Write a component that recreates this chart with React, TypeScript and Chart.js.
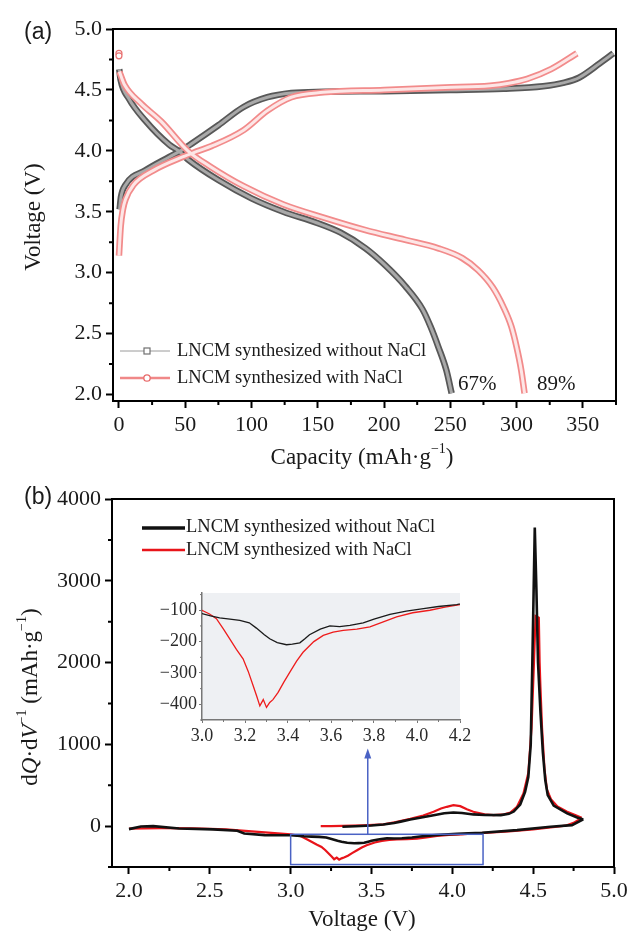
import { useEffect, useRef } from 'react';
import { Chart, registerables } from 'chart.js';

Chart.register(...registerables);

// ---------------- Panel (a): [capacity (mAh/g), voltage (V)] ----------------
const blackChargeA: number[][] = [
  [0.5, 3.52], [1.5, 3.62], [4.9, 3.72], [20, 3.84], [38, 3.95], [48, 4.01], [55, 4.06], [75, 4.21],
  [94, 4.36], [112, 4.44], [130, 4.475], [155, 4.485], [200, 4.49], [250, 4.50], [290, 4.51],
  [320, 4.53], [336, 4.56], [347, 4.6], [363, 4.72], [373, 4.80],
];
const redChargeA: number[][] = [
  [0, 3.14], [1.3, 3.38], [3, 3.52], [4.9, 3.60], [10.9, 3.72], [26, 3.84], [48, 3.95], [60, 4.0],
  [70, 4.04], [94, 4.17], [112, 4.33], [130, 4.44], [154, 4.48], [200, 4.50], [246, 4.52],
  [280, 4.535], [294, 4.555], [308, 4.59], [326, 4.67], [345.5, 4.80],
];
const blackDischargeA: number[][] = [
  [0.2, 4.67], [1.3, 4.58], [7.4, 4.43], [19.7, 4.25], [38, 4.05], [45, 4.0], [52, 3.93], [75, 3.76],
  [100, 3.61], [124, 3.50], [149, 3.41], [167, 3.33], [186, 3.20], [201, 3.06], [216, 2.89],
  [229, 2.70], [235, 2.56], [241, 2.39], [247, 2.20], [251, 2.01],
];
const redDischargeA: number[][] = [
  [0.3, 4.65], [4.3, 4.54], [16.5, 4.39], [32, 4.24], [52, 4.0], [69, 3.87], [94, 3.71], [124, 3.56],
  [155, 3.45], [186, 3.35], [216, 3.27], [241, 3.20], [259, 3.12], [271, 3.02], [282, 2.88],
  [290, 2.72], [296, 2.56], [300, 2.39], [303.5, 2.20], [306, 2.01],
];
const redRestA: number[][] = [[0, 4.80], [0, 4.78]];

const xTicksA = [0, 50, 100, 150, 200, 250, 300, 350];
const xMinorA = [25, 75, 125, 175, 225, 275, 325, 375];
const yTicksA = [2.0, 2.5, 3.0, 3.5, 4.0, 4.5, 5.0];
const yMinorA = [2.25, 2.75, 3.25, 3.75, 4.25, 4.75];

// ---------------- Panel (b): [voltage (V), dQ/dV] ----------------
const blackChargeB: number[][] = [
  [3.32, -8], [3.40, -2], [3.50, 8], [3.574, 20], [3.64, 38], [3.68, 55], [3.74, 82], [3.80, 102],
  [3.884, 134], [3.95, 158], [4.007, 167], [4.06, 160], [4.13, 143], [4.20, 136], [4.30, 134],
  [4.35, 150], [4.38, 178], [4.42, 265], [4.45, 420], [4.47, 600], [4.485, 1000], [4.495, 2000],
  [4.51, 3650], [4.52, 2900], [4.53, 2000], [4.545, 1400], [4.56, 900], [4.575, 560], [4.59, 380],
  [4.627, 250], [4.71, 155], [4.772, 106], [4.81, 82],
];
const blackDischargeB: number[][] = [
  [4.81, 82], [4.74, 12], [4.607, -8], [4.40, -49], [4.185, -82], [4.1, -88], [4.03, -95],
  [3.95, -103], [3.874, -113], [3.80, -128], [3.75, -140], [3.688, -148], [3.64, -152],
  [3.595, -150], [3.55, -160], [3.50, -178], [3.48, -190], [3.455, -204], [3.42, -208],
  [3.393, -210], [3.35, -203], [3.315, -191], [3.29, -178], [3.253, -157], [3.22, -140],
  [3.176, -132], [3.13, -128], [3.082, -124], [3.04, -118], [3.0, -111], [2.84, -110],
  [2.713, -90], [2.67, -57], [2.52, -40], [2.31, -29], [2.15, 0], [2.074, -5], [2.0, -37],
];
const redChargeB: number[][] = [
  [3.186, 0], [3.25, 0], [3.32, 2], [3.45, 10], [3.574, 22], [3.65, 50], [3.74, 90], [3.82, 130],
  [3.884, 175], [3.93, 215], [3.966, 236], [4.007, 257], [4.049, 244], [4.09, 205], [4.13, 175],
  [4.20, 145], [4.255, 134], [4.32, 145], [4.359, 165], [4.40, 236], [4.44, 400], [4.47, 650],
  [4.49, 1200], [4.505, 2000], [4.515, 2570], [4.535, 2550], [4.54, 2000], [4.545, 1700],
  [4.555, 1200], [4.57, 700], [4.585, 450], [4.61, 330], [4.65, 240], [4.71, 175], [4.76, 135],
  [4.80, 101],
];
const redDischargeB: number[][] = [
  [4.80, 101], [4.75, 40], [4.70, 5], [4.648, -8], [4.50, -40], [4.35, -65], [4.2, -82],
  [4.13, -90], [4.06, -100], [3.98, -108], [3.905, -121], [3.84, -138], [3.781, -153],
  [3.72, -160], [3.657, -164], [3.61, -170], [3.564, -180], [3.52, -200], [3.47, -234],
  [3.44, -262], [3.408, -298], [3.38, -330], [3.354, -362], [3.33, -385], [3.315, -394],
  [3.30, -410], [3.285, -385], [3.269, -405], [3.255, -375], [3.238, -341], [3.215, -295],
  [3.191, -255], [3.16, -225], [3.129, -191], [3.10, -160], [3.067, -127], [3.035, -112],
  [3.0, -100], [2.9, -85], [2.8, -70], [2.7, -55], [2.6, -40], [2.4, -28], [2.2, -25], [2.0, -30],
];

const xTicksB = [2.0, 2.5, 3.0, 3.5, 4.0, 4.5, 5.0];
const xMinorB = [2.25, 2.75, 3.25, 3.75, 4.25, 4.75];
const yTicksB = [0, 1000, 2000, 3000, 4000];
const yMinorB = [-500, 500, 1500, 2500, 3500];

const xTicksInset = [3.0, 3.2, 3.4, 3.6, 3.8, 4.0, 4.2];
const xMinorInset = [3.1, 3.3, 3.5, 3.7, 3.9, 4.1];
const yTicksInset = [-100, -200, -300, -400];
const yMinorInset = [-50, -150, -250, -350, -450];

// zoom box and arrow in panel (b), data coordinates
const zoomBox = { x0: 3.0, x1: 4.19, y0: -470, y1: -100 };
const arrowB = { x: 3.477, y0: -100, y1: 950 };

const legendLabels = ['LNCM synthesized without NaCl', 'LNCM synthesized with NaCl'];
const retentionLabels = ['67%', '89%'];

const SERIF = '"Liberation Serif", "Times New Roman", serif';
const SANS = '"Liberation Sans", Arial, sans-serif';
const INK = '#1a1a1a';

type Seg = { t: string; i?: boolean; sup?: boolean };

const pts = (arr: number[][]) => arr.map(([x, y]) => ({ x, y }));

function drawRich(ctx: CanvasRenderingContext2D, segs: Seg[], cx: number, cy: number, size: number, rotate: boolean) {
  ctx.save();
  ctx.translate(cx, cy);
  if (rotate) ctx.rotate(-Math.PI / 2);
  const fontFor = (s: Seg) => `${s.i ? 'italic ' : ''}${s.sup ? Math.round(size * 0.62) : size}px ${SERIF}`;
  let total = 0;
  const widths = segs.map((s) => {
    ctx.font = fontFor(s);
    const w = ctx.measureText(s.t).width;
    total += w;
    return w;
  });
  let x = -total / 2;
  ctx.textBaseline = 'middle';
  ctx.textAlign = 'left';
  ctx.fillStyle = INK;
  segs.forEach((s, k) => {
    ctx.font = fontFor(s);
    ctx.fillText(s.t, x, s.sup ? -size * 0.36 : 0);
    x += widths[k];
  });
  ctx.restore();
}

function minorTicks(chart: any, axisId: string, values: number[], len: number, width: number, color: string) {
  const s = chart.scales[axisId];
  const ctx: CanvasRenderingContext2D = chart.ctx;
  const a = chart.chartArea;
  ctx.save();
  ctx.strokeStyle = color;
  ctx.lineWidth = width;
  ctx.beginPath();
  for (const v of values) {
    const p = s.getPixelForValue(v);
    if (s.isHorizontal()) {
      ctx.moveTo(p, a.bottom);
      ctx.lineTo(p, a.bottom + len);
    } else {
      ctx.moveTo(a.left, p);
      ctx.lineTo(a.left - len, p);
    }
  }
  ctx.stroke();
  ctx.restore();
}

function frame(chart: any) {
  const ctx: CanvasRenderingContext2D = chart.ctx;
  const a = chart.chartArea;
  ctx.save();
  ctx.strokeStyle = '#000';
  ctx.lineWidth = 2;
  ctx.strokeRect(a.left, a.top, a.right - a.left, a.bottom - a.top);
  ctx.restore();
}

function text(ctx: CanvasRenderingContext2D, s: string, x: number, y: number, font: string, align: CanvasTextAlign = 'left') {
  ctx.save();
  ctx.font = font;
  ctx.fillStyle = INK;
  ctx.textAlign = align;
  ctx.textBaseline = 'middle';
  ctx.fillText(s, x, y);
  ctx.restore();
}

const decorA = {
  id: 'decorA',
  afterDraw(chart: any) {
    const ctx: CanvasRenderingContext2D = chart.ctx;
    frame(chart);
    minorTicks(chart, 'x', xMinorA, 4, 2, '#000');
    minorTicks(chart, 'y', yMinorA, 4, 2, '#000');
    // legend
    ctx.save();
    ctx.strokeStyle = '#9a9a9a';
    ctx.lineWidth = 1;
    ctx.beginPath();
    ctx.moveTo(120, 351);
    ctx.lineTo(170, 351);
    ctx.stroke();
    ctx.fillStyle = '#fff';
    ctx.strokeStyle = '#707070';
    ctx.lineWidth = 1.2;
    ctx.fillRect(144, 348, 6, 6);
    ctx.strokeRect(144, 348, 6, 6);
    ctx.strokeStyle = '#f08888';
    ctx.lineWidth = 2.5;
    ctx.beginPath();
    ctx.moveTo(120, 378);
    ctx.lineTo(170, 378);
    ctx.stroke();
    ctx.beginPath();
    ctx.arc(147, 378, 3.2, 0, Math.PI * 2);
    ctx.fillStyle = '#fff';
    ctx.fill();
    ctx.strokeStyle = '#e86a6a';
    ctx.lineWidth = 1.3;
    ctx.stroke();
    ctx.restore();
    text(ctx, legendLabels[0], 177, 351.5, `18.5px ${SERIF}`);
    text(ctx, legendLabels[1], 177, 378, `18.5px ${SERIF}`);
    text(ctx, retentionLabels[0], 458, 384, `21px ${SERIF}`);
    text(ctx, retentionLabels[1], 537, 384, `21px ${SERIF}`);
    // titles
    drawRich(ctx, [{ t: 'Capacity (mAh·g' }, { t: '−1', sup: true }, { t: ')' }], 362, 458, 23, false);
    drawRich(ctx, [{ t: 'Voltage (V)' }], 34, 217, 23, true);
    text(ctx, '(a)', 24, 33, `23px ${SANS}`);
  },
};

const decorB = {
  id: 'decorB',
  afterDraw(chart: any) {
    const ctx: CanvasRenderingContext2D = chart.ctx;
    const xs = chart.scales.x;
    const ys = chart.scales.y;
    // zoom box + arrow
    ctx.save();
    ctx.strokeStyle = '#4a62c4';
    ctx.lineWidth = 1.5;
    const bx0 = xs.getPixelForValue(zoomBox.x0);
    const bx1 = xs.getPixelForValue(zoomBox.x1);
    const by0 = ys.getPixelForValue(zoomBox.y0);
    const by1 = ys.getPixelForValue(zoomBox.y1);
    ctx.strokeRect(bx0, by1, bx1 - bx0, by0 - by1);
    const ax = xs.getPixelForValue(arrowB.x);
    const ay0 = ys.getPixelForValue(arrowB.y0);
    const ay1 = ys.getPixelForValue(arrowB.y1);
    ctx.beginPath();
    ctx.moveTo(ax, ay0);
    ctx.lineTo(ax, ay1 + 8);
    ctx.stroke();
    ctx.fillStyle = '#4a62c4';
    ctx.beginPath();
    ctx.moveTo(ax, ay1);
    ctx.lineTo(ax - 3.5, ay1 + 10);
    ctx.lineTo(ax + 3.5, ay1 + 10);
    ctx.closePath();
    ctx.fill();
    ctx.restore();
    frame(chart);
    minorTicks(chart, 'x', xMinorB, 4, 2, '#000');
    minorTicks(chart, 'y', yMinorB, 4, 2, '#000');
    // legend
    ctx.save();
    ctx.strokeStyle = '#111';
    ctx.lineWidth = 3.5;
    ctx.beginPath();
    ctx.moveTo(142, 58);
    ctx.lineTo(185, 58);
    ctx.stroke();
    ctx.strokeStyle = '#e8141a';
    ctx.lineWidth = 2.3;
    ctx.beginPath();
    ctx.moveTo(142, 80);
    ctx.lineTo(185, 80);
    ctx.stroke();
    ctx.restore();
    text(ctx, legendLabels[0], 186, 57.5, `18.5px ${SERIF}`);
    text(ctx, legendLabels[1], 186, 80, `18.5px ${SERIF}`);
    drawRich(ctx, [{ t: 'Voltage (V)' }], 362, 450, 23, false);
    drawRich(
      ctx,
      [{ t: 'd' }, { t: 'Q', i: true }, { t: '·d' }, { t: 'V', i: true }, { t: '−1', sup: true }, { t: ' (mAh·g' }, { t: '−1', sup: true }, { t: ')' }],
      31, 227, 23, true,
    );
    text(ctx, '(b)', 24, 28, `23px ${SANS}`);
  },
};

const decorInset = {
  id: 'decorInset',
  beforeDraw(chart: any) {
    const ctx: CanvasRenderingContext2D = chart.ctx;
    const a = chart.chartArea;
    ctx.save();
    ctx.fillStyle = '#eef0f3';
    ctx.fillRect(a.left, a.top, a.right - a.left, a.bottom - a.top);
    ctx.restore();
  },
  afterDraw(chart: any) {
    minorTicks(chart, 'x', xMinorInset, 2, 1, '#777');
    minorTicks(chart, 'y', yMinorInset, 2, 1, '#777');
  },
};

function mainScale(min: number, max: number, ticks: number[], fmt: (v: number) => string, fit: (s: any) => void): any {
  return {
    type: 'linear',
    min,
    max,
    afterBuildTicks: (s: any) => {
      s.ticks = ticks.map((v) => ({ value: v }));
    },
    afterFit: fit,
    border: { display: false },
    grid: { display: true, drawOnChartArea: false, drawTicks: true, tickLength: 7, tickWidth: 2, tickColor: '#000', color: '#000' },
    ticks: {
      autoSkip: false,
      maxRotation: 0,
      padding: 4,
      color: INK,
      font: { family: SERIF, size: 22 },
      callback: (v: any) => fmt(Number(v)),
    },
  };
}

const baseOpts = (padding: any, scales: any): any => ({
  animation: false,
  responsive: false,
  maintainAspectRatio: false,
  events: [],
  layout: { padding },
  plugins: { legend: { display: false }, tooltip: { enabled: false } },
  scales,
});

function band(arr: number[][], outer: string, inner: string, order: number): any[] {
  return [
    { data: pts(arr), borderColor: outer, borderWidth: 6.5, pointRadius: 0, cubicInterpolationMode: 'monotone', order: order + 1, fill: false },
    { data: pts(arr), borderColor: inner, borderWidth: 3, pointRadius: 0, cubicInterpolationMode: 'monotone', order, fill: false },
  ];
}

export default function App() {
  const refA = useRef<HTMLCanvasElement>(null);
  const refB = useRef<HTMLCanvasElement>(null);
  const refC = useRef<HTMLCanvasElement>(null);

  useEffect(() => {
    const chartA = new Chart(refA.current as HTMLCanvasElement, {
      type: 'line',
      data: {
        datasets: [
          { data: pts(redRestA), showLine: false, pointRadius: 3, pointStyle: 'circle', borderColor: '#e87070', backgroundColor: '#fff', borderWidth: 1.2, order: 0 },
          ...band(redChargeA, '#f28b8b', '#fde6e6', 1),
          ...band(redDischargeA, '#f28b8b', '#fde6e6', 1),
          ...band(blackChargeA, '#585858', '#a9a9a9', 3),
          ...band(blackDischargeA, '#585858', '#a9a9a9', 3),
        ],
      },
      options: baseOpts({ left: 0, right: 18, top: 29, bottom: 0 }, {
        x: mainScale(-4.5, 375, xTicksA, (v) => String(v), (s: any) => { s.height = 69; }),
        y: mainScale(1.947, 5.0, yTicksA, (v) => v.toFixed(1), (s: any) => { s.width = 113; }),
      }),
      plugins: [decorA],
    } as any);

    const chartB = new Chart(refB.current as HTMLCanvasElement, {
      type: 'line',
      data: {
        datasets: [
          { data: pts(blackChargeB), borderColor: '#111', borderWidth: 2.6, pointRadius: 0, tension: 0, order: 0 },
          { data: pts(blackDischargeB), borderColor: '#111', borderWidth: 2.6, pointRadius: 0, tension: 0, order: 0 },
          { data: pts(redChargeB), borderColor: '#e8141a', borderWidth: 2.2, pointRadius: 0, tension: 0, order: 1 },
          { data: pts(redDischargeB), borderColor: '#e8141a', borderWidth: 2.2, pointRadius: 0, tension: 0, order: 1 },
        ],
      },
      options: baseOpts({ left: 0, right: 20, top: 29, bottom: 0 }, {
        x: mainScale(1.895, 5.0, xTicksB, (v) => v.toFixed(1), (s: any) => { s.height = 66; }),
        y: mainScale(-500, 4000, yTicksB, (v) => String(v), (s: any) => { s.width = 112; }),
      }),
      plugins: [decorB],
    } as any);

    const insetScale = (min: number, max: number, ticks: number[], fmt: (v: number) => string, fit: (s: any) => void): any => ({
      type: 'linear',
      min,
      max,
      afterBuildTicks: (s: any) => {
        s.ticks = ticks.map((v) => ({ value: v }));
      },
      afterFit: fit,
      border: { display: true, color: '#777', width: 1.5 },
      grid: { display: true, drawOnChartArea: false, drawTicks: true, tickLength: 3, tickWidth: 1, tickColor: '#777', color: '#777' },
      ticks: {
        autoSkip: false,
        maxRotation: 0,
        padding: 2,
        color: '#2a2a2a',
        font: { family: SERIF, size: 18 },
        callback: (v: any) => fmt(Number(v)),
      },
    });

    const chartC = new Chart(refC.current as HTMLCanvasElement, {
      type: 'line',
      data: {
        datasets: [
          { data: pts(blackDischargeB), borderColor: '#1a1a1a', borderWidth: 1.3, pointRadius: 0, tension: 0, order: 0 },
          { data: pts(redDischargeB), borderColor: '#ee1c1c', borderWidth: 1.3, pointRadius: 0, tension: 0, order: 1 },
        ],
      },
      options: baseOpts({ left: 0, right: 15, top: 13, bottom: 0 }, {
        x: insetScale(3.0, 4.2, xTicksInset, (v) => v.toFixed(1), (s: any) => { s.height = 30; }),
        y: insetScale(-450, -45, yTicksInset, (v) => (v < 0 ? '\u2212' + Math.abs(v) : String(v)), (s: any) => { s.width = 72; }),
      }),
      plugins: [decorInset],
    } as any);

    return () => {
      chartA.destroy();
      chartB.destroy();
      chartC.destroy();
    };
  }, []);

  return (
    <div style={{ position: 'absolute', left: 0, top: 0, width: 634, height: 933, background: '#fff', overflow: 'hidden' }}>
      <canvas ref={refA} width={634} height={470} style={{ position: 'absolute', left: 0, top: 0, width: 634, height: 470 }} />
      <canvas ref={refB} width={634} height={463} style={{ position: 'absolute', left: 0, top: 470, width: 634, height: 463 }} />
      <canvas ref={refC} width={345} height={170} style={{ position: 'absolute', left: 130, top: 580, width: 345, height: 170 }} />
    </div>
  );
}
